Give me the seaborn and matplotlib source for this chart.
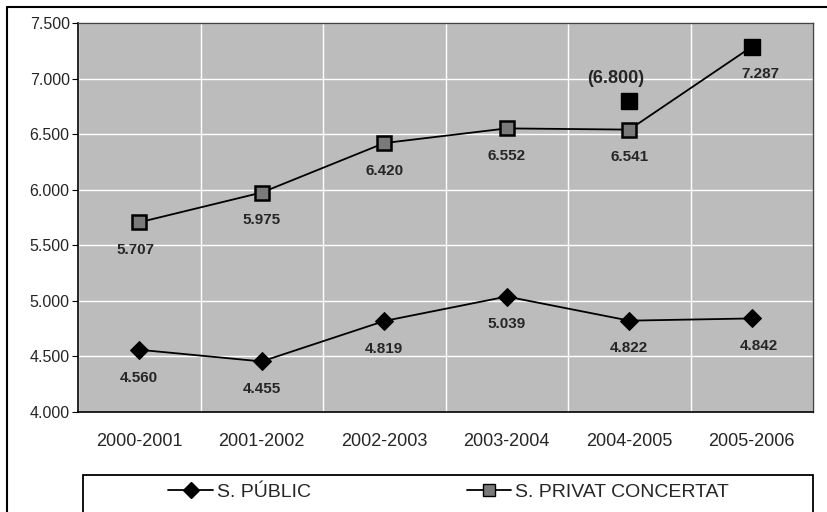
import pandas as pd
import matplotlib.pyplot as plt
import seaborn as sns
from matplotlib.lines import Line2D
from matplotlib.patches import Rectangle

# data
seasons = ["2000-2001", "2001-2002", "2002-2003", "2003-2004", "2004-2005", "2005-2006"]
public = [4560, 4455, 4819, 5039, 4822, 4842]
privat = [5707, 5975, 6420, 6552, 6541, 7287]
# extra estimated point shown for 2004-2005
extra_season = "2004-2005"
extra_value = 6800

y_ticks = [4000, 4500, 5000, 5500, 6000, 6500, 7000, 7500]


def fmt(v):
    return f"{v:,}".replace(",", ".")


sns.set_style("white")
plt.rcParams["font.family"] = ["Liberation Sans", "DejaVu Sans"]

fig = plt.figure(figsize=(8.28, 5.12), dpi=100)
ax = fig.add_axes([0.0942, 0.1953, 0.8878, 0.7597])
ax.set_facecolor("#bcbcbc")

df = pd.DataFrame({"season": seasons, "public": public, "privat": privat})

sns.lineplot(x="season", y="public", data=df, ax=ax, color="black", lw=1.3,
             marker="D", markersize=9, markerfacecolor="black", markeredgecolor="black",
             label="S. PÚBLIC", zorder=3)
sns.lineplot(x="season", y="privat", data=df, ax=ax, color="black", lw=1.3,
             marker="s", markersize=10, markerfacecolor="#7a7a7a", markeredgecolor="black",
             markeredgewidth=1.8, label="S. PRIVAT CONCERTAT", zorder=3)

# filled black markers: last privat point and the estimate
ax.plot([seasons[-1]], [privat[-1]], marker="s", ms=11, color="black", ls="none", zorder=4)
ax.plot([extra_season], [extra_value], marker="s", ms=11, color="black", ls="none", zorder=4)

# value labels under the points
pub_dx = [0, 0, 0, 0, 0, 5]
priv_dx = [-3, 0, 0, 0, 0, 6]
for i, s in enumerate(seasons):
    ax.annotate(fmt(public[i]), (s, public[i]), xytext=(pub_dx[i], -20), textcoords="offset points",
                ha="center", va="center", fontsize=11, fontweight="bold")
    ax.annotate(fmt(privat[i]), (s, privat[i]), xytext=(priv_dx[i], -20), textcoords="offset points",
                ha="center", va="center", fontsize=11, fontweight="bold")
ax.annotate("(" + fmt(extra_value) + ")", (extra_season, extra_value), xytext=(-10, 16),
            textcoords="offset points", ha="center", va="center", fontsize=13, fontweight="bold")

ax.set_xlim(-0.5, len(seasons) - 0.5)
ax.set_ylim(4000, 7500)
ax.set_yticks(y_ticks)
ax.set_yticklabels([fmt(t) for t in y_ticks], fontsize=11.5)
ax.set_xticks(range(len(seasons)))
ax.set_xticklabels(seasons, fontsize=13)
ax.set_xticks([i + 0.5 for i in range(-1, len(seasons))], minor=True)
ax.tick_params(axis="x", which="major", length=0, pad=15)
ax.tick_params(axis="x", which="minor", length=4, color="black", direction="out")
ax.tick_params(axis="y", length=4, color="black", direction="out", left=True, pad=2)
ax.set_xlabel("")
ax.set_ylabel("")

ax.grid(True, axis="y", color="white", lw=1)
ax.grid(True, axis="x", which="minor", color="white", lw=1)
ax.set_axisbelow(True)
for side in ["left", "bottom"]:
    ax.spines[side].set_color("black")
    ax.spines[side].set_linewidth(1.2)
for side in ["top", "right"]:
    ax.spines[side].set_color("#444444")
    ax.spines[side].set_linewidth(1)

# legend box along the bottom
ax.get_legend().remove()
handles = [
    Line2D([], [], color="black", lw=1.3, marker="D", ms=8, mfc="black", mec="black"),
    Line2D([], [], color="black", lw=1.3, marker="s", ms=8, mfc="#7a7a7a", mec="black"),
]
leg = fig.legend(handles, ["S. PÚBLIC", "S. PRIVAT CONCERTAT"], ncol=2,
                 loc="center", bbox_to_anchor=(0.542, 1 - 492 / 512),
                 fontsize=14, frameon=False, handlelength=2.3,
                 columnspacing=8.0, handletextpad=0.2)
fig.add_artist(Rectangle((83 / 828, -0.02), 730 / 828, 0.02 + 37 / 512, transform=fig.transFigure,
                         facecolor="white", edgecolor="black", lw=1.3, zorder=0))

# outer chart frame (left and top edges)
fig.add_artist(Line2D([7 / 828, 7 / 828], [0, 1 - 7 / 512], color="black", lw=1.5))
fig.add_artist(Line2D([7 / 828, 1], [1 - 7 / 512, 1 - 7 / 512], color="black", lw=1.5))

fig.savefig("out.png", dpi=100)
